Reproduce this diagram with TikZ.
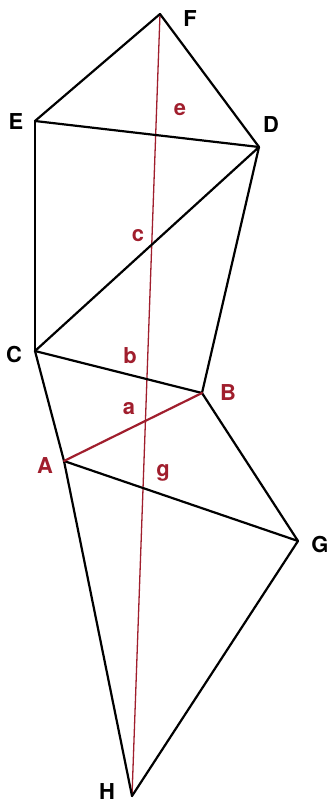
\documentclass[tikz,border=0pt]{standalone}
\usepackage{fontspec}
\setmainfont{TeX Gyre Heros}
\definecolor{dred}{RGB}{160,30,45}
\begin{document}
\begin{tikzpicture}[x=1bp,y=-1bp,
  lbl/.style={font=\fontsize{22}{22}\selectfont\bfseries,inner sep=0pt},
  rlbl/.style={lbl,text=dred},
  edge/.style={draw=black,line width=2.2bp,line join=round,line cap=round},
  redge/.style={draw=dred,line width=1.3bp,line cap=round}]
\useasboundingbox (0,0) rectangle (331,804);
\coordinate (F) at (160,14);
\coordinate (E) at (35,121);
\coordinate (D) at (259,147);
\coordinate (C) at (35,351);
\coordinate (B) at (202,393);
\coordinate (A) at (64,461);
\coordinate (G) at (298,541);
\coordinate (H) at (132,796);
\draw[redge] (F) -- (H);
\draw[edge] (F) -- (E);
\draw[edge] (F) -- (D);
\draw[edge] (E) -- (D);
\draw[edge] (E) -- (C);
\draw[edge] (D) -- (C);
\draw[edge] (D) -- (B);
\draw[edge] (C) -- (B);
\draw[edge] (C) -- (A);
\draw[edge] (A) -- (H);
\draw[edge] (A) -- (G);
\draw[edge] (B) -- (G);
\draw[edge] (G) -- (H);
\draw[redge,line width=2.2bp] (A) -- (B);
\node[lbl] (lF) at (190,19) {F};
\node[lbl] (lE) at (16,122) {E};
\node[lbl] (lD) at (271,125) {D};
\node[lbl] (lC) at (14,355) {C};
\node[rlbl] (lB) at (228,393) {B};
\node[rlbl] (lA) at (45,466) {A};
\node[lbl] (lG) at (320,545) {G};
\node[lbl] (lH) at (107,792) {H};
\node[rlbl] (le) at (180,110) {e};
\node[rlbl] (lc) at (138,236) {c};
\node[rlbl] (lb) at (130,356) {b};
\node[rlbl] (la) at (129,409) {a};
\node[rlbl] (lg) at (163,473) {g};
\end{tikzpicture}
\end{document}
